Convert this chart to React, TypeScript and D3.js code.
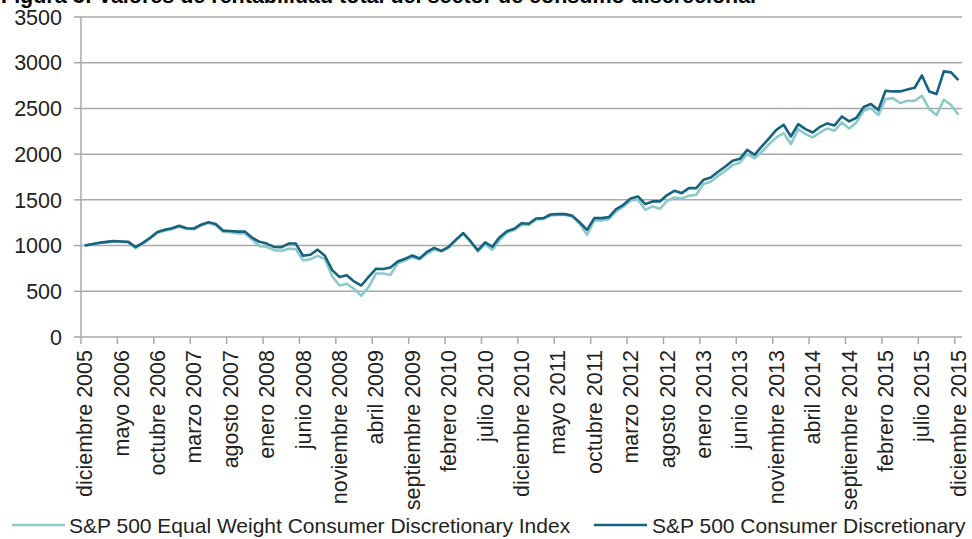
import React, { useEffect } from "react";
import * as d3 from "d3";

const sp500CD: number[] = [
  1000, 1015, 1030, 1040, 1050, 1045, 1041, 985, 1030, 1086,
  1149, 1172, 1190, 1216, 1190, 1187, 1228, 1254, 1235, 1164,
  1160, 1153, 1153, 1086, 1041, 1022, 985, 981, 1022, 1022,
  888, 899, 955, 888, 731, 657, 675, 608, 563, 657,
  746, 743, 761, 825, 855, 892, 858, 930, 975, 942,
  987, 1065, 1137, 1048, 947, 1035, 987, 1092, 1157, 1183,
  1245, 1238, 1296, 1300, 1340, 1344, 1344, 1325, 1252, 1172,
  1300, 1300, 1311, 1399, 1446, 1516, 1537, 1453, 1483, 1483,
  1552, 1599, 1573, 1628, 1628, 1719, 1745, 1807, 1865, 1927,
  1949, 2047, 1993, 2084, 2172, 2266, 2321, 2193, 2329, 2274,
  2237, 2299, 2336, 2314, 2412, 2358, 2398, 2515, 2548, 2482,
  2694, 2686, 2686, 2708, 2726, 2861, 2686, 2657, 2905, 2894,
  2810,
];

const sp500EW: number[] = [
  1000, 1013, 1027, 1035, 1045, 1040, 1035, 972, 1022, 1078,
  1140, 1163, 1180, 1205, 1183, 1180, 1220, 1248, 1225, 1152,
  1146, 1132, 1135, 1065, 995, 985, 950, 940, 965, 962,
  838, 851, 888, 851, 664, 563, 582, 526, 452, 545,
  694, 694, 680, 806, 836, 873, 851, 910, 955, 937,
  978, 1058, 1130, 1043, 937, 1015, 955, 1062, 1142, 1170,
  1225, 1225, 1285, 1290, 1330, 1335, 1335, 1318, 1240, 1117,
  1274, 1274, 1289, 1373, 1428, 1494, 1501, 1391, 1428, 1402,
  1490, 1526, 1515, 1544, 1555, 1672, 1697, 1763, 1818, 1880,
  1909, 2000, 1956, 2026, 2110, 2183, 2230, 2110, 2274, 2219,
  2183, 2237, 2281, 2256, 2347, 2281, 2347, 2475, 2504, 2427,
  2602, 2613, 2558, 2584, 2584, 2639, 2493, 2427, 2595, 2537,
  2431,
];

const tickLabels: string[] = [
  "diciembre 2005", "mayo 2006", "octubre 2006", "marzo 2007", "agosto 2007",
  "enero 2008", "junio 2008", "noviembre 2008", "abril 2009", "septiembre 2009",
  "febrero 2010", "julio 2010", "diciembre 2010", "mayo 2011", "octubre 2011",
  "marzo 2012", "agosto 2012", "enero 2013", "junio 2013", "noviembre 2013",
  "abril 2014", "septiembre 2014", "febrero 2015", "julio 2015", "diciembre 2015",
];

const yTicks: number[] = [0, 500, 1000, 1500, 2000, 2500, 3000, 3500];

const seriesNames: string[] = [
  "S&P 500 Equal Weight Consumer Discretionary Index",
  "S&P 500 Consumer Discretionary",
];

const title = "Figura 3: Valores de rentabilidad total del sector de consumo discrecional";

const W = 972;
const H = 539;
const LIGHT = "#8cc9c9";
const DARK = "#17627e";
const GRID = "#a9a9a9";
const FONT = "'Liberation Sans', Arial, sans-serif";

export default function App() {
  useEffect(() => {
    document.body.style.margin = "0";
  }, []);

  const idx = d3.range(sp500CD.length);
  const x = d3.scaleBand<number>().domain(idx).range([81, 962]).padding(0);
  const bw = x.bandwidth();
  const xc = (i: number) => (x(i) as number) + bw / 2;
  const y = d3.scaleLinear().domain([0, 3500]).range([337, 17]);

  const line = d3
    .line<number>()
    .x((_, i) => xc(i))
    .y((v) => y(v));

  const tickIdx = d3.range(0, sp500CD.length, 5);
  const fs = 21.5;
  const lfs = 21;
  const ly = 525;

  return (
    <svg width={W} height={H} style={{ display: "block", background: "#fff" }} fontFamily={FONT}>
      <text x={1} y={3} fontSize={21.5} fontWeight="bold" fill="#000">
        {title}
      </text>
      {yTicks.map((t) => (
        <g key={t}>
          {t > 0 && (
            <line x1={81} x2={962} y1={y(t)} y2={y(t)} stroke={GRID} strokeWidth={1.5} />
          )}
          <line x1={74} x2={81} y1={y(t)} y2={y(t)} stroke={GRID} strokeWidth={1.5} />
          <text x={62} y={y(t)} dy="0.36em" textAnchor="end" fontSize={fs} fill="#222">
            {t}
          </text>
        </g>
      ))}
      <line x1={81} x2={81} y1={17} y2={337} stroke={GRID} strokeWidth={1.5} />
      <line x1={81} x2={962} y1={337} y2={337} stroke={GRID} strokeWidth={1.5} />
      {tickIdx.map((i, k) => (
        <g key={i}>
          <line x1={x(i) as number} x2={x(i) as number} y1={337} y2={344} stroke={GRID} strokeWidth={1.5} />
          <text
            transform={`translate(${xc(i) + 7.5},350) rotate(-90)`}
            textAnchor="end"
            fontSize={fs}
            fill="#222"
          >
            {tickLabels[k]}
          </text>
        </g>
      ))}
      <path d={line(sp500EW) || ""} fill="none" stroke={LIGHT} strokeWidth={2.6} strokeLinejoin="round" />
      <path d={line(sp500CD) || ""} fill="none" stroke={DARK} strokeWidth={2.6} strokeLinejoin="round" />
      <g>
        <line x1={12} x2={65} y1={ly} y2={ly} stroke={LIGHT} strokeWidth={2.6} />
        <text x={69} y={ly} dy="0.36em" fontSize={lfs} fill="#222">
          {seriesNames[0]}
        </text>
        <line x1={594} x2={647} y1={ly} y2={ly} stroke={DARK} strokeWidth={2.6} />
        <text x={652} y={ly} dy="0.36em" fontSize={lfs} fill="#222">
          {seriesNames[1]}
        </text>
      </g>
    </svg>
  );
}
